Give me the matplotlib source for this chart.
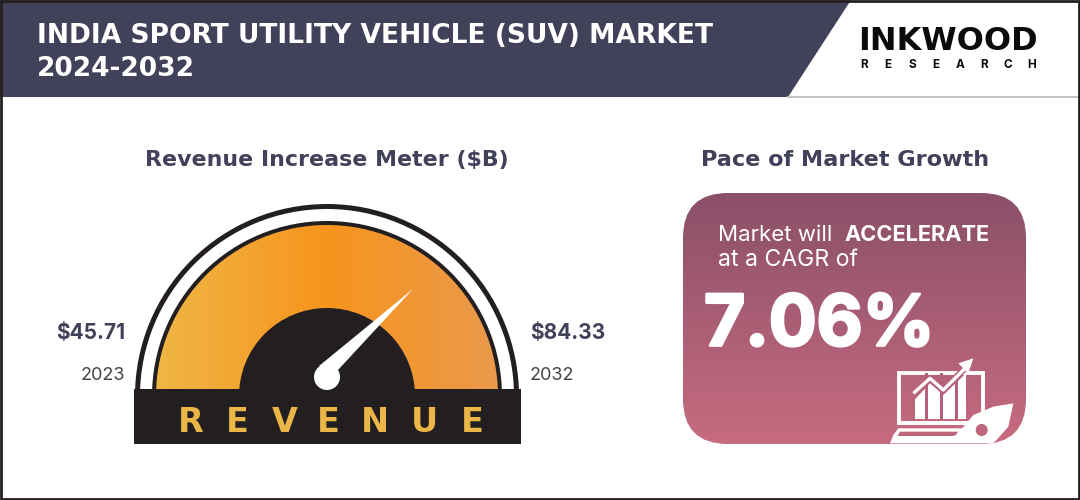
import numpy as np
import matplotlib
matplotlib.use('Agg')
import matplotlib.pyplot as plt
import matplotlib.patheffects as pe
from matplotlib.colors import LinearSegmentedColormap
from matplotlib.patches import Circle, FancyBboxPatch, Polygon, Rectangle, Wedge

title_lines = ['INDIA SPORT UTILITY VEHICLE (SUV) MARKET', '2024-2032']
start_value = '$45.71'
end_value = '$84.33'
start_year = '2023'
end_year = '2032'
cagr = '7.06%'
gauge_letters = list('REVENUE')

DARK = '#41415a'
BLACK = '#231f20'
GOLD = '#ebb648'
ICON_BG = '#b4627a'
plt.rcParams['font.family'] = ['Inter', 'DejaVu Sans']
WIDE = ['DejaVu Sans']

fig = plt.figure(figsize=(10.8, 5), dpi=100, facecolor='white')
ax = fig.add_axes([0, 0, 1, 1])
ax.set_xlim(0, 1080)
ax.set_ylim(500, 0)
ax.axis('off')


def gradient(colors, extent, clip, horizontal=True, z=2):
    cmap = LinearSegmentedColormap.from_list('g', colors)
    vals = np.linspace(0, 1, 256)
    vals = vals[None, :] if horizontal else vals[:, None]
    im = ax.imshow(vals, cmap=cmap, extent=extent, aspect='auto', zorder=z)
    im.set_clip_path(clip)


def icon(pts):
    return [(880 + x / 3, 340 + y / 3) for x, y in pts]


# header
ax.add_patch(Polygon([(0, 0), (851, 0), (788, 97), (0, 97)], fc=DARK, ec='none', zorder=1))
ax.plot([788, 1080], [97, 97], color='#c4c4c4', lw=1.5, zorder=1)
for y, line in zip([33, 66], title_lines):
    ax.text(37, y, line, color='white', fontsize=19.1, fontweight='bold', family=WIDE,
            va='center_baseline', zorder=3)
ax.text(948, 38, 'INKWOOD', color='#0b0b0b', fontsize=23, fontweight='bold', family=WIDE,
        va='center_baseline', ha='center', zorder=3)
for x, ch in zip(np.linspace(864, 1032, 8), 'RESEARCH'):
    ax.text(x, 64, ch, color='#0b0b0b', fontsize=8.5, fontweight='bold', va='center_baseline', ha='center', zorder=3)

# headings
ax.text(327, 158, 'Revenue Increase Meter ($B)', color=DARK, fontsize=15.9, fontweight='bold', family=WIDE,
        ha='center', va='center_baseline')
ax.text(845, 158, 'Pace of Market Growth', color=DARK, fontsize=16.1, fontweight='bold', family=WIDE,
        ha='center', va='center_baseline')

# gauge
cx, cy = 327, 396
ax.add_patch(Wedge((cx, cy), 192, 180, 360, fc=BLACK, ec='none', zorder=1))
ax.add_patch(Wedge((cx, cy), 187, 180, 360, fc='white', ec='none', zorder=1.2))
ax.add_patch(Wedge((cx, cy), 175, 180, 360, fc=BLACK, ec='none', zorder=1.4))
face = Wedge((cx, cy), 171, 180, 360, fc='none', ec='none', zorder=1.5)
ax.add_patch(face)
gradient(['#efb645', '#f7941d', '#ea9a4c'], (cx - 171, cx + 171, 396, 225), face)
ax.add_patch(Wedge((cx, cy), 88, 180, 360, fc=BLACK, ec='none', zorder=3))
ax.add_patch(Rectangle((134, 389), 387, 55, fc=BLACK, ec='none', zorder=4))
ax.add_patch(Polygon([(413, 289), (338, 370), (319, 366)], fc='white', ec='none', zorder=5))
ax.add_patch(Circle((327, 377), 13, fc='white', ec='none', zorder=5))
for x, ch in zip([191, 237, 285, 328, 375, 424, 472], gauge_letters):
    ax.text(x, 419, ch, color=GOLD, fontsize=24, fontweight='bold', family=WIDE,
            ha='center', va='center_baseline', zorder=6)

# gauge labels
ax.text(125, 331, start_value, color=DARK, fontsize=15, fontweight='bold', ha='right', va='center_baseline')
ax.text(125, 374, start_year, color='#444444', fontsize=13, ha='right', va='center_baseline')
ax.text(530, 331, end_value, color=DARK, fontsize=15, fontweight='bold', ha='left', va='center_baseline')
ax.text(530, 374, end_year, color='#444444', fontsize=13, ha='left', va='center_baseline')

# growth card
card = FancyBboxPatch((683, 193), 343, 251, boxstyle='round,pad=0,rounding_size=45', fc='none', ec='none')
ax.add_patch(card)
gradient(['#8a5068', '#c76b80'], (683, 1026, 444, 193), card, horizontal=False)
ax.text(718, 233, 'Market will', color='white', fontsize=16, va='center_baseline', zorder=5)
ax.text(844, 233, 'ACCELERATE', color='white', fontsize=15.7, fontweight='bold', va='center_baseline', zorder=5)
ax.text(718, 258, 'at a CAGR of', color='white', fontsize=16.6, va='center_baseline', zorder=5)
ax.text(704, 320, cagr, color='white', fontsize=51, fontweight='bold', va='center_baseline', zorder=5,
        path_effects=[pe.withStroke(linewidth=2, foreground='white')])

# laptop icon with rising arrow
ax.add_patch(Polygon(icon([(58, 100), (310, 100), (310, 250), (58, 250)]), fc='none', ec='white', lw=2.8, zorder=5))
ax.add_patch(Polygon(icon([(105, 178), (150, 130), (190, 165), (258, 100), (258, 237), (105, 237)]),
                     fc='white', ec='none', zorder=5))
for gap in [135, 180, 225]:
    ax.add_patch(Polygon(icon([(gap, 100), (gap + 10, 100), (gap + 10, 237), (gap, 237)]),
                         fc=ICON_BG, ec='none', zorder=5.1))
arrow = icon([(100, 160), (150, 115), (190, 150), (262, 78)])
ax.plot(*zip(*arrow), color=ICON_BG, lw=4.5, zorder=5.2, solid_capstyle='butt')
ax.plot(*zip(*arrow), color='white', lw=2.4, zorder=5.3, solid_capstyle='butt')
ax.add_patch(Polygon(icon([(280, 55), (235, 70), (265, 100)]), fc='white', ec='none', zorder=5.3))
ax.add_patch(Polygon(icon([(55, 265), (255, 265), (230, 300), (170, 310), (30, 310), (40, 285)]),
                     fc='white', ec='none', zorder=5))
ax.add_patch(Polygon(icon([(60, 275), (235, 275), (225, 288), (52, 288)]), fc='#bd667c', ec='none', zorder=5.1))

# rocket
ax.add_patch(Polygon(icon([(400, 190), (385, 260), (345, 305), (335, 310), (170, 310), (170, 300), (230, 285),
                           (280, 225), (340, 200)]), fc='white', ec='none', zorder=7))
ax.add_patch(Circle(icon([(305, 270)])[0], 6, fc='#bd667c', ec='none', zorder=8))

# image border
ax.add_patch(Rectangle((1, 1), 1078, 498, fc='none', ec='#231f20', lw=2, zorder=10))

fig.savefig('out.png', dpi=100)
